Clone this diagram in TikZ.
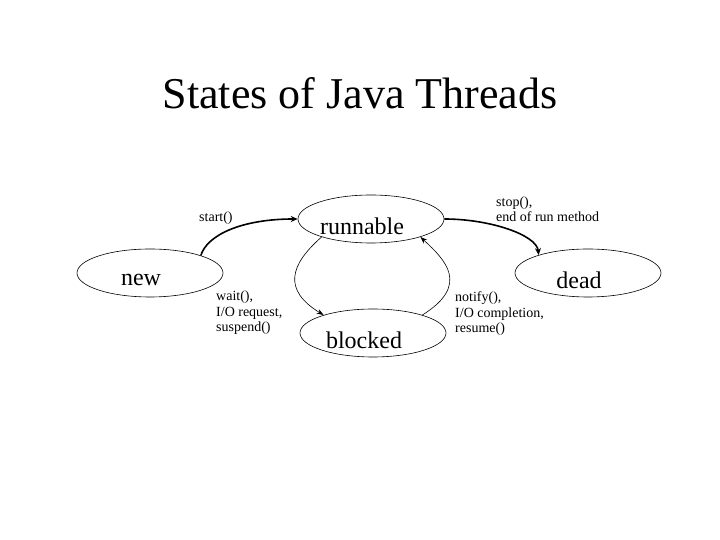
\documentclass[tikz,border=0pt]{standalone}
\usepackage{fontspec}
\setmainfont{Liberation Serif}
\usetikzlibrary{shapes.geometric,arrows.meta}
\tikzset{
  statenode/.style={draw, ellipse, line width=0.6pt, minimum width=146pt, minimum height=48pt, inner sep=0pt,
    label={[anchor=base, xshift=-9pt, yshift=-7pt, font=\fontsize{24}{24}\selectfont]center:#1}},
  thickarc/.style={line width=1.6pt, -{Stealth[length=7pt,width=6pt]}},
  thinarc/.style={line width=0.6pt, -{Stealth[length=7pt,width=5pt]}},
  note/.style={anchor=base west, align=left, inner sep=0pt, font=\fontsize{14}{15.5}\selectfont}
}
\begin{document}
\begin{tikzpicture}[x=1pt,y=1pt]
  \useasboundingbox (0,0) rectangle (720,540);
  \node[anchor=base, font=\fontsize{44}{44}\selectfont] (title) at (360,431) {States of Java Threads};

  % the four states
  \node[statenode=new] (new) at (150,267) {};
  \node[statenode=runnable] (runnable) at (371,321) {};
  \node[statenode=blocked] (blocked) at (373,207) {};
  \node[statenode=dead] (dead) at (588,267) {};

  % transitions
  \draw[thickarc] (new.19) .. controls +(6,20) and +(-57,0) .. (runnable.west);
  \draw[thickarc] (runnable.east) .. controls +(46,0) and +(-2,20) .. (dead.160);
  \draw[thinarc] (runnable.200) .. controls +(-32,-28) and +(-41,25) .. (blocked.160);
  \draw[thinarc] (blocked.20) .. controls +(48,30) and +(25,-23) .. (runnable.340);

  % labels (anchored at the last line)
  \node[note] (startlbl) at (199,318) {start()};
  \node[note] (stoplbl) at (496,318) {stop(),\\end of run method};
  \node[note] (waitlbl) at (216,208) {wait(),\\I/O request,\\suspend()};
  \node[note] (notifylbl) at (455,207) {notify(),\\I/O completion,\\resume()};
\end{tikzpicture}
\end{document}
